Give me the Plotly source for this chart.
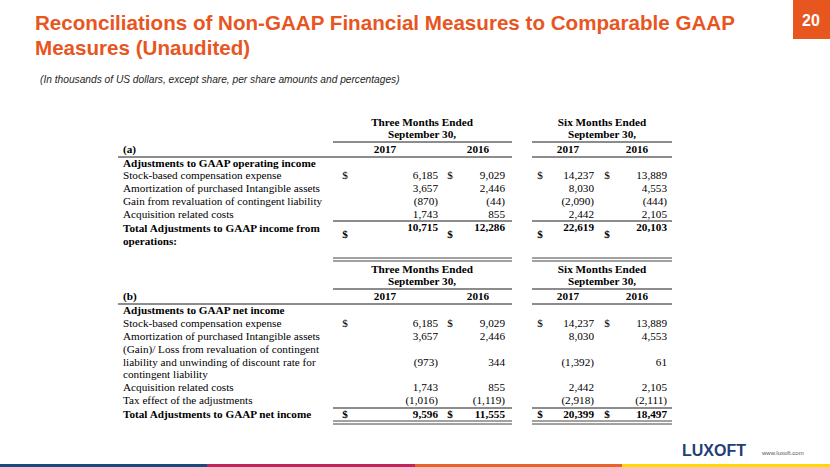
import plotly.graph_objects as go

# ---------------- data ----------------
TITLE_LINES = ["Reconciliations of Non-GAAP Financial Measures to Comparable GAAP",
               "Measures (Unaudited)"]
SUBTITLE = "(In thousands of US dollars, except share, per share amounts and percentages)"
PAGE_NUMBER = "20"
LOGO_TEXT = "LUXOFT"
WEBSITE = "www.luxoft.com"

PERIODS = ["Three Months Ended", "Six Months Ended"]
PERIOD_DATE = "September 30,"
YEARS = ["2017", "2016", "2017", "2016"]

A_TAG = "(a)"
A_SECTION = "Adjustments to GAAP operating income"
A_ITEMS = ["Stock-based compensation expense",
           "Amortization of purchased Intangible assets",
           "Gain from revaluation of contingent liability",
           "Acquisition related costs"]
A_Q3_2017 = [6185, 3657, -870, 1743]
A_Q3_2016 = [9029, 2446, -44, 855]
A_H1_2017 = [14237, 8030, -2090, 2442]
A_H1_2016 = [13889, 4553, -444, 2105]
A_TOTAL_LABEL = "Total Adjustments to GAAP income from\noperations:"
A_TOTALS = [10715, 12286, 22619, 20103]

B_TAG = "(b)"
B_SECTION = "Adjustments to GAAP net income"
B_ITEMS = ["Stock-based compensation expense",
           "Amortization of purchased Intangible assets",
           "(Gain)/ Loss from revaluation of contingent\nliability and unwinding of discount rate for\ncontingent liability",
           "Acquisition related costs",
           "Tax effect of the adjustments"]
B_Q3_2017 = [6185, 3657, -973, 1743, -1016]
B_Q3_2016 = [9029, 2446, 344, 855, -1119]
B_H1_2017 = [14237, 8030, -1392, 2442, -2918]
B_H1_2016 = [13889, 4553, 61, 2105, -2111]
B_TOTAL_LABEL = "Total Adjustments to GAAP net income"
B_TOTALS = [9596, 11555, 20399, 18497]

CURRENCY = "$"

# ---------------- style / layout ----------------
W, H = 830, 467
ORANGE = "#E8561F"
SERIF = "Liberation Serif"
SANS = "Liberation Sans"
FS = 11.2
LINE_GAP = 12.8

LABEL_X = 123
RULE_LEFT = 118
BLOCKS = [(333, 512), (532, 672)]
PERIOD_CX = [422, 602]
YEAR_CX = [385, 478, 568, 637]
DOLLAR_X = [345, 450, 540, 607]
VALUE_RX = [438, 505, 594, 667]

TABLE_A = dict(hdr1=123, hdr2=135, rule1=142, year=150, rule2=157, section=164,
               items=[176, 189, 202, 215], rule3=221,
               total_label=229, total_value=228, total_dollar=235, dbl=(258, 261))
TABLE_B = dict(hdr1=270, hdr2=282, rule1=289, year=297, rule2=304, section=311,
               items=[324, 337, 350, 388, 401], rule3=408,
               total_label=415, total_value=415, total_dollar=415, dbl=(421, 424))


def fmt(v):
    return f"{v:,}" if v >= 0 else f"({-v:,})"


fig = go.Figure()


def add_text(xs, ys, texts, pos, size=FS, bold=False, color="#000000", family=SERIF,
             italic=False):
    fig.add_trace(go.Scatter(
        x=xs, y=ys, text=texts, mode="text", textposition=pos,
        textfont=dict(family=family, size=size, color=color,
                      weight="bold" if bold else "normal",
                      style="italic" if italic else "normal"),
        hoverinfo="skip", showlegend=False, cliponaxis=False))


shapes = []


def hline(x0, x1, y, width=1.0, color="#1a1a1a"):
    shapes.append(dict(type="line", xref="x", yref="y", x0=x0, x1=x1, y0=y, y1=y,
                       line=dict(color=color, width=width)))


def draw_table(pos, tag, section, items, cols, total_label, totals):
    # headers
    add_text(PERIOD_CX, [pos["hdr1"]] * 2, PERIODS, "middle center", bold=True)
    add_text(PERIOD_CX, [pos["hdr2"]] * 2, [PERIOD_DATE] * 2, "middle center", bold=True)
    for b0, b1 in BLOCKS:
        hline(b0, b1, pos["rule1"])
    add_text([LABEL_X], [pos["year"]], [tag], "middle right", bold=True)
    add_text(YEAR_CX, [pos["year"]] * 4, YEARS, "middle center", bold=True)
    hline(RULE_LEFT, BLOCKS[0][1], pos["rule2"])
    hline(BLOCKS[1][0], BLOCKS[1][1], pos["rule2"])
    add_text([LABEL_X], [pos["section"]], [section], "middle right", bold=True)

    # items
    lx, ly, lt = [], [], []
    value_y = []
    for item, y0 in zip(items, pos["items"]):
        lines = item.split("\n")
        for k, ln in enumerate(lines):
            lx.append(LABEL_X)
            ly.append(y0 + k * LINE_GAP)
            lt.append(ln)
        value_y.append(y0 + (len(lines) - 1) * LINE_GAP / 2)
    add_text(lx, ly, lt, "middle right")
    for c, col in enumerate(cols):
        add_text([VALUE_RX[c]] * len(col), value_y, [fmt(v) for v in col], "middle left")
    add_text(DOLLAR_X, [value_y[0]] * 4, [CURRENCY] * 4, "middle center")

    for b0, b1 in BLOCKS:
        hline(b0, b1, pos["rule3"])

    # totals
    tl = total_label.split("\n")
    add_text([LABEL_X] * len(tl), [pos["total_label"] + k * 13 for k in range(len(tl))],
             tl, "middle right", bold=True)
    add_text(VALUE_RX, [pos["total_value"]] * 4, [fmt(v) for v in totals],
             "middle left", bold=True)
    add_text(DOLLAR_X, [pos["total_dollar"]] * 4, [CURRENCY] * 4, "middle center", bold=True)
    for b0, b1 in BLOCKS:
        for yy in pos["dbl"]:
            hline(b0, b1, yy, width=1.0, color="#444444")


draw_table(TABLE_A, A_TAG, A_SECTION, A_ITEMS,
           [A_Q3_2017, A_Q3_2016, A_H1_2017, A_H1_2016], A_TOTAL_LABEL, A_TOTALS)
draw_table(TABLE_B, B_TAG, B_SECTION, B_ITEMS,
           [B_Q3_2017, B_Q3_2016, B_H1_2017, B_H1_2016], B_TOTAL_LABEL, B_TOTALS)

# page-number box and footer bar
shapes.append(dict(type="rect", xref="x", yref="y", x0=793, x1=830, y0=0, y1=39,
                   fillcolor=ORANGE, line=dict(width=0), layer="below"))
bar_colors = ["#1B4A7E", "#C1255B", "#E8652A", "#FFD800"]
bar_edges = [0, 207, 415, 622, 830]
for i, colr in enumerate(bar_colors):
    shapes.append(dict(type="rect", xref="x", yref="y", x0=bar_edges[i], x1=bar_edges[i + 1],
                       y0=464, y1=467, fillcolor=colr, line=dict(width=0)))

annotations = [
    dict(x=33, y=22, text=TITLE_LINES[0], xanchor="left", yanchor="middle",
         font=dict(family=SANS, size=20.6, color=ORANGE, weight="bold")),
    dict(x=33, y=47, text=TITLE_LINES[1], xanchor="left", yanchor="middle",
         font=dict(family=SANS, size=20.6, color=ORANGE, weight="bold")),
    dict(x=38, y=79, text=SUBTITLE, xanchor="left", yanchor="middle",
         font=dict(family=SANS, size=10.2, color="#262626", style="italic")),
    dict(x=811, y=20, text=PAGE_NUMBER, xanchor="center", yanchor="middle",
         font=dict(family=SANS, size=16, color="#FFFFFF", weight="bold")),
    dict(x=680, y=450, text=LOGO_TEXT, xanchor="left", yanchor="middle",
         font=dict(family=SANS, size=16, color="#1E3F78", weight="bold")),
    dict(x=759, y=453, text=WEBSITE, xanchor="left", yanchor="middle",
         font=dict(family=SANS, size=6, color="#555555")),
]
for a in annotations:
    a.update(xref="x", yref="y", showarrow=False)

fig.update_layout(
    width=W, height=H, margin=dict(l=0, r=0, t=0, b=0),
    paper_bgcolor="white", plot_bgcolor="white",
    xaxis=dict(range=[0, W], visible=False, fixedrange=True),
    yaxis=dict(range=[H, 0], visible=False, fixedrange=True),
    shapes=shapes, annotations=annotations, showlegend=False,
)

fig.write_html("out.html", config={"displayModeBar": False},
               post_script="document.body.style.margin='0';document.body.style.overflow='hidden';")
